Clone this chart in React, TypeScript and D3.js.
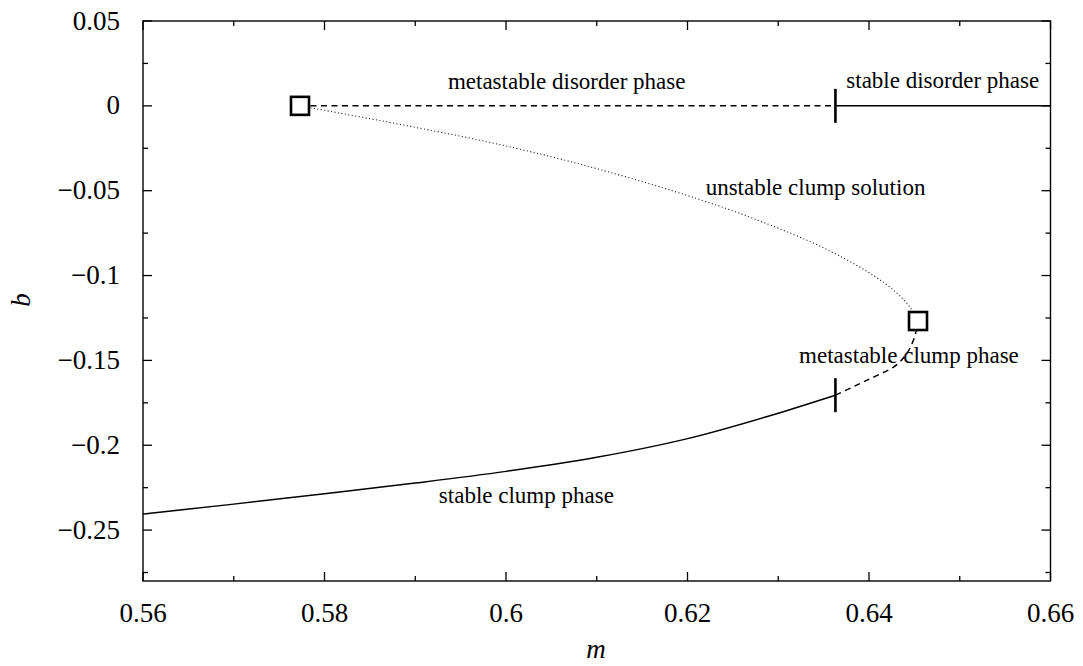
import React from "react";
import * as d3 from "d3";

// Axis ticks
const xTicks = [0.56, 0.58, 0.6, 0.62, 0.64, 0.66];
const xTickLabels = ["0.56", "0.58", "0.6", "0.62", "0.64", "0.66"];
const xMinorTicks = [0.57, 0.59, 0.61, 0.63, 0.65];
const yTicks = [0.05, 0, -0.05, -0.1, -0.15, -0.2, -0.25];
const yTickLabels = ["0.05", "0", "\u22120.05", "\u22120.1", "\u22120.15", "\u22120.2", "\u22120.25"];
const yMinorTicks = [0.025, -0.025, -0.075, -0.125, -0.175, -0.225, -0.275];

// Branches of the solution (m, b)
const stableClumpM = [0.56, 0.57, 0.58, 0.59, 0.6, 0.61, 0.62, 0.63, 0.6363];
const stableClumpB = [-0.2405, -0.2347, -0.2286, -0.2223, -0.2154, -0.2071, -0.1961, -0.1811, -0.1705];

const metaClumpM = [0.6363, 0.6398, 0.6427, 0.6442, 0.6449, 0.6454];
const metaClumpB = [-0.1705, -0.1616, -0.1539, -0.1456, -0.138, -0.1268];

const unstableM = [0.5773, 0.5874, 0.5969, 0.605, 0.612, 0.6183, 0.624, 0.629, 0.6335, 0.6373, 0.6405, 0.643, 0.6447, 0.6454];
const unstableB = [0, -0.01, -0.02, -0.03, -0.04, -0.05, -0.06, -0.07, -0.08, -0.09, -0.1, -0.11, -0.12, -0.1268];

const metaDisorderM = [0.5773, 0.6363];
const metaDisorderB = [0, 0];
const stableDisorderM = [0.6363, 0.66];
const stableDisorderB = [0, 0];

// Spinodal points (squares) and transition points (bars)
const spinodalM = [0.5773, 0.6454];
const spinodalB = [0, -0.1268];
const transitionM = [0.6363, 0.6363];
const transitionB = [0, -0.1705];

// Phase labels
const phaseLabels = [
  { text: "metastable disorder phase", m: 0.5936, b: 0.0097 },
  { text: "stable disorder phase", m: 0.6375, b: 0.0104 },
  { text: "unstable clump solution", m: 0.6220, b: -0.0525 },
  { text: "metastable clump phase", m: 0.6323, b: -0.1517 },
  { text: "stable clump phase", m: 0.5926, b: -0.2343 },
];

const W = 1083;
const H = 666;
const left = 143, right = 1050.5, top = 21, bottom = 581;

const FONT = "Liberation Serif";

export default function App() {
  const x = d3.scaleLinear().domain([0.56, 0.66]).range([left, right]);
  const y = d3.scaleLinear().domain([-0.28, 0.05]).range([bottom, top]);

  const zip = (ms: number[], bs: number[]) => ms.map((m, i) => [m, bs[i]] as [number, number]);
  const lineX = d3
    .line<[number, number]>()
    .x((d) => x(d[0]))
    .y((d) => y(d[1]))
    .curve(d3.curveMonotoneX);
  const lineY = d3
    .line<[number, number]>()
    .x((d) => x(d[0]))
    .y((d) => y(d[1]))
    .curve(d3.curveMonotoneY);

  const majorLen = 9;
  const minorLen = 5;

  return (
    <svg width={W} height={H} style={{ position: "absolute", left: 0, top: 0, background: "#fff" }}>
      <rect x={0} y={0} width={W} height={H} fill="#fff" />

      {/* ticks on all four sides, pointing inward */}
      <g stroke="#000" strokeWidth={1.3}>
        {xTicks.map((t) => (
          <g key={"xt" + t}>
            <line x1={x(t)} x2={x(t)} y1={bottom} y2={bottom - majorLen} />
            <line x1={x(t)} x2={x(t)} y1={top} y2={top + majorLen} />
          </g>
        ))}
        {xMinorTicks.map((t) => (
          <g key={"xm" + t}>
            <line x1={x(t)} x2={x(t)} y1={bottom} y2={bottom - minorLen} />
            <line x1={x(t)} x2={x(t)} y1={top} y2={top + minorLen} />
          </g>
        ))}
        {yTicks.map((t) => (
          <g key={"yt" + t}>
            <line x1={left} x2={left + majorLen} y1={y(t)} y2={y(t)} />
            <line x1={right} x2={right - majorLen} y1={y(t)} y2={y(t)} />
          </g>
        ))}
        {yMinorTicks.map((t) => (
          <g key={"ym" + t}>
            <line x1={left} x2={left + minorLen} y1={y(t)} y2={y(t)} />
            <line x1={right} x2={right - minorLen} y1={y(t)} y2={y(t)} />
          </g>
        ))}
      </g>

      {/* tick labels */}
      <g fontSize={27} fill="#000" style={{ fontFamily: FONT }}>
        {xTicks.map((t, i) => (
          <text key={"xl" + t} x={x(t)} y={622} textAnchor="middle">
            {xTickLabels[i]}
          </text>
        ))}
        {yTicks.map((t, i) => (
          <text key={"yl" + t} x={120} y={y(t) + 8.5} textAnchor="end">
            {yTickLabels[i]}
          </text>
        ))}
      </g>

      {/* axis titles */}
      <text x={596} y={658} fontSize={27} fontStyle="italic" textAnchor="middle" style={{ fontFamily: FONT }}>
        m
      </text>
      <text
        x={30}
        y={300}
        fontSize={27}
        fontStyle="italic"
        textAnchor="middle"
        transform="rotate(-90 30 300)"
        style={{ fontFamily: FONT }}
      >
        b
      </text>

      {/* solution branches */}
      <g fill="none" stroke="#000">
        <path d={lineX(zip(stableClumpM, stableClumpB)) || ""} strokeWidth={1.5} />
        <path d={lineY(zip(metaClumpM, metaClumpB)) || ""} strokeWidth={1.5} strokeDasharray="6,4.5" />
        <path d={lineY(zip(unstableM, unstableB)) || ""} strokeWidth={1.1} strokeDasharray="1.1,2.4" stroke="#222" />
        <path d={lineX(zip(metaDisorderM, metaDisorderB)) || ""} strokeWidth={1.5} strokeDasharray="6,4.5" />
        <path d={lineX(zip(stableDisorderM, stableDisorderB)) || ""} strokeWidth={1.5} />
      </g>

      {/* phase transition marks */}
      <g stroke="#000" strokeWidth={2.6}>
        {transitionM.map((m, i) => (
          <line key={"tr" + i} x1={x(m)} x2={x(m)} y1={y(transitionB[i]) - 17} y2={y(transitionB[i]) + 17} />
        ))}
      </g>

      {/* spinodal points */}
      <g stroke="#000" strokeWidth={2.6} fill="#fff">
        {spinodalM.map((m, i) => (
          <rect key={"sp" + i} x={x(m) - 9} y={y(spinodalB[i]) - 9} width={18} height={18} />
        ))}
      </g>

      {/* phase labels */}
      <g fontSize={23} fill="#000" style={{ fontFamily: FONT }}>
        {phaseLabels.map((l) => (
          <text key={l.text} x={x(l.m)} y={y(l.b)}>
            {l.text}
          </text>
        ))}
      </g>

      {/* frame */}
      <rect x={left} y={top} width={right - left} height={bottom - top} fill="none" stroke="#000" strokeWidth={1.4} />
    </svg>
  );
}
